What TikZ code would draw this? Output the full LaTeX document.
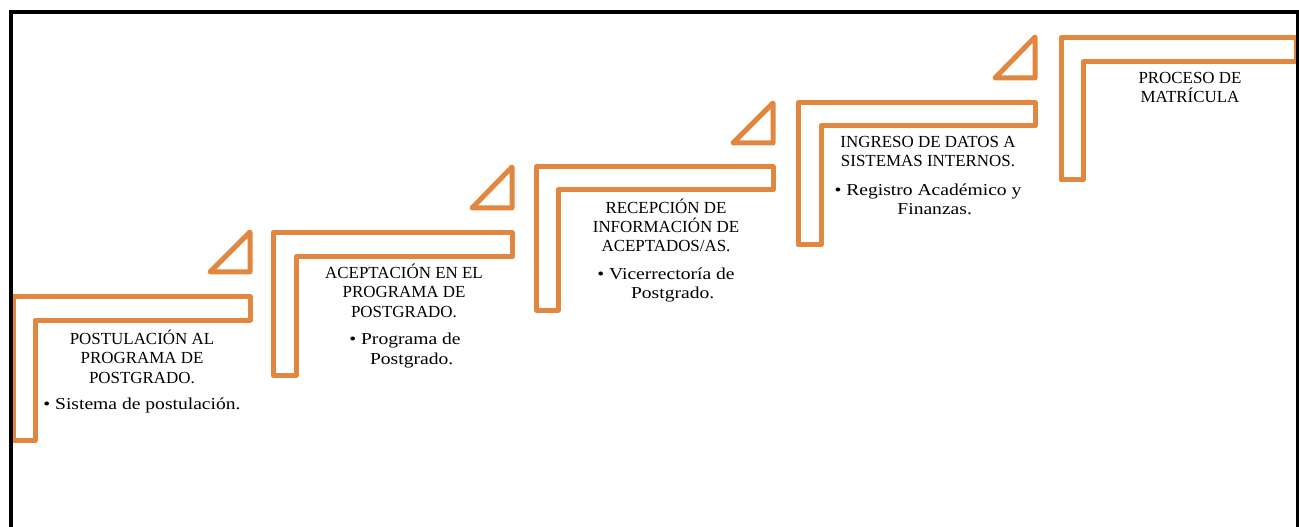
\documentclass[tikz,border=0pt]{standalone}
\usepackage{fontspec}
\setmainfont[FakeStretch=1.175]{Liberation Serif}
\newfontfamily\capsfont{Liberation Serif}
\definecolor{stepor}{RGB}{226,135,63}
\begin{document}
\begin{tikzpicture}[x=0.75pt,y=-0.75pt,
  stair/.style={draw=stepor,line width=3.75pt,line join=round,fill=white},
  arrowtri/.style={draw=stepor,line width=3.75pt,line join=round,fill=white},
  frameline/.style={draw=black,line width=3pt},
  steptext/.style={font=\capsfont\fontsize{12.7}{14.6}\selectfont,align=center,anchor=base,inner sep=0pt},
  bullettext/.style={font=\fontsize{12.5}{14.6}\selectfont,align=center,anchor=base,inner sep=0pt},
]
\useasboundingbox (0,0) rectangle (1299,527);
% steps
\draw[stair] (13,297) -- (250,297) -- (250,320) -- (35,320) -- (35,440) -- (13,440) -- cycle;
\draw[stair] (273,233) -- (512,233) -- (512,257) -- (296,257) -- (296,375) -- (273,375) -- cycle;
\draw[stair] (536,167) -- (773,167) -- (773,190) -- (558,190) -- (558,310) -- (536,310) -- cycle;
\draw[stair] (798,103) -- (1035,103) -- (1035,126) -- (821,126) -- (821,245) -- (798,245) -- cycle;
\draw[stair] (1061,38) -- (1296,38) -- (1296,62) -- (1083,62) -- (1083,180) -- (1061,180) -- cycle;
% triangles
\draw[arrowtri] (210,272) -- (250,232) -- (250,272) -- cycle;
\draw[arrowtri] (472,208) -- (512,167) -- (512,208) -- cycle;
\draw[arrowtri] (733,143) -- (773,103) -- (773,143) -- cycle;
\draw[arrowtri] (995,78) -- (1035,37) -- (1035,78) -- cycle;
% frame
\draw[frameline] (11,527) -- (11,12) -- (1297.5,12) -- (1297.5,527);
% texts (anchor=base is the baseline of the last line)
\node[steptext] (t1) at (142,383) {POSTULACIÓN AL\\PROGRAMA DE\\POSTGRADO.};
\node[bullettext] (b1) at (142,409) {• Sistema de postulación.};
\node[steptext] (t2) at (404,317) {ACEPTACIÓN EN EL\\PROGRAMA DE\\POSTGRADO.};
\node[bullettext] (b2) at (405,364) {• Programa de\\\hspace*{10pt}Postgrado.};
\node[steptext] (t3) at (666,252) {RECEPCIÓN DE\\INFORMACIÓN DE\\ACEPTADOS/AS.};
\node[bullettext] (b3) at (666,299) {• Vicerrectoría de\\\hspace*{10pt}Postgrado.};
\node[steptext] (t4) at (928,167) {INGRESO DE DATOS A\\SISTEMAS INTERNOS.};
\node[bullettext] (b4) at (928,215) {• Registro Académico y\\\hspace*{10pt}Finanzas.};
\node[steptext] (t5) at (1190,103) {PROCESO DE\\MATRÍCULA};
\end{tikzpicture}
\end{document}
